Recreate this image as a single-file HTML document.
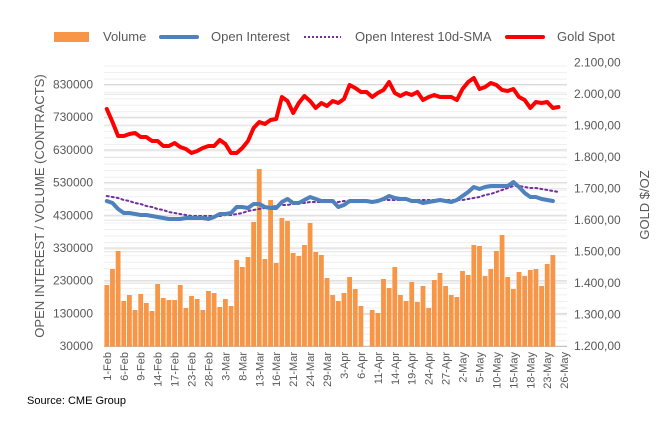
<!DOCTYPE html>
<html><head><meta charset="utf-8"><style>
html,body{margin:0;padding:0;background:#fff;}
svg{display:block;font-family:"Liberation Sans",sans-serif;}
</style></head><body>
<svg id="s" width="667" height="426" xmlns="http://www.w3.org/2000/svg">
<g id="grid"></g>
<g id="bars"></g>
<g id="lines"></g>
<g id="labels" fill="#595959" font-size="12"></g>
<!-- legend -->
<rect x="54" y="32" width="35" height="10" fill="#F79646"/>
<text x="103" y="41" font-size="13" fill="#595959">Volume</text>
<line x1="161" y1="37" x2="197" y2="37" stroke="#4F81BD" stroke-width="4" stroke-linecap="round"/>
<text x="211" y="41" font-size="13" fill="#595959">Open Interest</text>
<line x1="304" y1="37" x2="341" y2="37" stroke="#7030A0" stroke-width="2" stroke-dasharray="2,2"/>
<text x="355" y="41" font-size="13" fill="#595959">Open Interest 10d-SMA</text>
<line x1="507" y1="37" x2="543" y2="37" stroke="#FF0000" stroke-width="4" stroke-linecap="round"/>
<text x="557" y="41" font-size="13" fill="#595959">Gold Spot</text>
<text transform="translate(44,206) rotate(-90)" text-anchor="middle" font-size="13" fill="#595959">OPEN INTEREST / VOLUME (CONTRACTS)</text>
<text transform="translate(649,205) rotate(-90)" text-anchor="middle" font-size="13" fill="#595959">GOLD $/OZ</text>
<text x="27" y="404" font-size="11" fill="#000">Source: CME Group</text>
</svg>
<script>
var NS="http://www.w3.org/2000/svg";
function el(p,t,a,txt){var e=document.createElementNS(NS,t);for(var k in a)e.setAttribute(k,a[k]);if(txt!=null)e.textContent=txt;document.getElementById(p).appendChild(e);return e;}
var X0=104,X1=567,N=82,W=(X1-X0)/N;
function cx(i){return X0+(i+0.5)*W;}
// grid
for(var y=66;y<=346;y+=6.54){el("grid","line",{x1:X0,x2:X1,y1:y.toFixed(1),y2:y.toFixed(1),stroke:"#efefef","stroke-width":1});}
for(var k=0;k<9;k++){var y=84.5+k*32.7;el("grid","line",{x1:X0,x2:X1,y1:y,y2:y,stroke:"#d9d9d9","stroke-width":1});
 el("labels","text",{x:93,y:y+4,"text-anchor":"end"},String(830000-k*100000));}
var rl=["2.100,00","2.000,00","1.900,00","1.800,00","1.700,00","1.600,00","1.500,00","1.400,00","1.300,00","1.200,00"];
for(var k=0;k<10;k++){var y=62.7+k*31.5;if(k>0)el("grid","line",{x1:X0,x2:X1,y1:y,y2:y,stroke:"#e3e3e3","stroke-width":1});
 el("labels","text",{x:574,y:y+4},rl[k]);}
el("grid","line",{x1:X0,x2:X1,y1:346.5,y2:346.5,stroke:"#bfbfbf","stroke-width":1});
// bars
var B=[285,269,251,301,295,310,294,303,311,284,298,300,300,285,308,296,299,310,291,293,307,299,306,260,267,257,222,169,259,200,263,218,221,253,256,245,223,252,255,278,295,301,293,277,289,306,null,310,313,279,288,267,295,301,282,302,286,308,280,273,286,295,297,271,275,245,246,276,269,251,235,277,289,272,276,270,269,286,264,255];
for(var i=0;i<B.length;i++){if(B[i]==null)continue;el("bars","rect",{x:(cx(i)-2.4).toFixed(2),y:B[i],width:4.8,height:(346.5-B[i]).toFixed(1),fill:"#F79646"});}
// x labels
var L=["1-Feb","6-Feb","9-Feb","14-Feb","17-Feb","23-Feb","28-Feb","3-Mar","8-Mar","13-Mar","16-Mar","21-Mar","24-Mar","29-Mar","3-Apr","6-Apr","11-Apr","14-Apr","19-Apr","24-Apr","27-Apr","2-May","5-May","10-May","15-May","18-May","23-May","26-May"];
for(var j=0;j<L.length;j++){var x=cx(j*3)+4;el("labels","text",{transform:"translate("+x.toFixed(1)+",352) rotate(-90)","text-anchor":"end","font-size":"11"},L[j]);}
function poly(arr,attrs){var p=[];for(var i=0;i<arr.length;i++)p.push(cx(i).toFixed(1)+","+arr[i]);attrs.points=p.join(" ");attrs.fill="none";attrs["stroke-linejoin"]="round";attrs["stroke-linecap"]="round";el("lines","polyline",attrs);}
var SMA=[196,197,198,200,201,203,204,206,207,209,210,212,213,214,215,216,216,216,216,216,216,215,215,214,213,211,210,209,208,207,206,205,205,204,203,203,202,202,202,202,202,202,201,201,201,201,201,201,201,200,200,200,200,200,200,200,200,200,200,200,200,200,200,200,199,198,197,195,194,192,190,188,186,186,187,188,188,189,190,191,192];
var BL=[201,203,209,213,213,214,215,215,216,217,218,219,219,219,218,218,218,218,219,217,214,214,213,207,207,208,204,204,207,208,208,202,199,203,203,200,197,199,201,201,201,207,205,201,201,201,201,202,201,199,196,198,199,199,201,201,203,202,201,200,201,202,200,196,192,187,189,187,186,186,186,186,182,187,193,197,197,199,200,201];
var R=[109,122,136,136,134,133,137,137,141,141,146,146,143,147,149,153,151,148,146,146,140,144,153,153,148,141,128,122,124,120,119,97,101,113,103,96,101,108,103,106,101,103,99,85,88,92,92,97,93,90,82,93,96,93,95,92,100,97,95,97,97,97,100,89,82,78,89,87,83,85,90,91,89,97,100,108,102,103,102,108,107];
poly(SMA,{stroke:"#7030A0","stroke-width":2,"stroke-dasharray":"2,3"});
poly(BL,{stroke:"#4F81BD","stroke-width":4});
poly(R,{stroke:"#FF0000","stroke-width":4});
</script>
</body></html>
